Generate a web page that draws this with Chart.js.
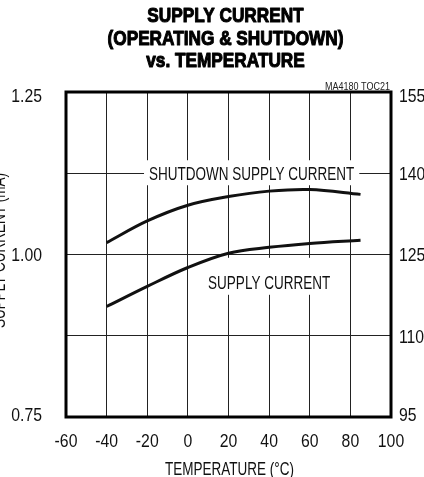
<!DOCTYPE html>
<html>
<head>
<meta charset="utf-8">
<script src="https://cdn.jsdelivr.net/npm/chart.js@4/dist/chart.umd.min.js"></script>
<style>
  html, body { margin: 0; padding: 0; background: #fff; }
  #wrap { width: 424px; height: 477px; position: relative; }
</style>
</head>
<body>
<div id="wrap"><canvas id="c" width="424" height="477"></canvas></div>
<script>
// ---- data ----
const temperatures = [-40, -20, 0, 20, 40, 60, 85];
const supplyCurrent_mA = [0.920, 0.951, 0.980, 1.002, 1.011, 1.017, 1.022];
const shutdownCurrent_uA = [127.2, 131.2, 134.1, 135.7, 136.7, 137.0, 136.1];
const xTicks = [-60, -40, -20, 0, 20, 40, 60, 80, 100];
const leftTicks = [0.75, 1.00, 1.25];
const rightTicks = [95, 110, 125, 140, 155];
const titleLines = ["SUPPLY CURRENT", "(OPERATING & SHUTDOWN)", "vs. TEMPERATURE"];
const xTitle = "TEMPERATURE (°C)";
const yTitle = "SUPPLY CURRENT (mA)";
const labelShutdown = { text: "SHUTDOWN SUPPLY CURRENT", x: 31.4, y: 1.125 };
const labelSupply = { text: "SUPPLY CURRENT", x: 40, y: 0.958 };
const figId = "MA4180 TOC21";

const FONT = '"Liberation Sans", Arial, sans-serif';

// draw horizontally condensed text (emulates a narrow typeface)
function narrowText(ctx, text, x, y, font, align, sx, color, stroke) {
  ctx.save();
  ctx.font = font;
  ctx.fillStyle = color || '#111';
  ctx.textAlign = align;
  ctx.textBaseline = 'alphabetic';
  ctx.translate(x, y);
  ctx.scale(sx, 1);
  ctx.fillText(text, 0, 0);
  if (stroke) {
    ctx.strokeStyle = color || '#111';
    ctx.lineWidth = stroke;
    ctx.lineJoin = 'round';
    ctx.strokeText(text, 0, 0);
  }
  ctx.restore();
}
function narrowWidth(ctx, text, font, sx) {
  ctx.save(); ctx.font = font;
  const w = ctx.measureText(text).width * sx;
  ctx.restore();
  return w;
}

const overlay = {
  id: 'overlay',
  beforeDatasetsDraw(chart) {
    const ctx = chart.ctx;
    const xs = chart.scales.x, yl = chart.scales.yL;
    const f = '18px ' + FONT, sx = 0.75;
    // shutdown label
    let cx = xs.getPixelForValue(labelShutdown.x);
    let cy = yl.getPixelForValue(labelShutdown.y);
    let w = narrowWidth(ctx, labelShutdown.text, f, sx);
    ctx.fillStyle = '#fff';
    ctx.fillRect(cx - w / 2 - 5, cy - 13, w + 10, 25);
    narrowText(ctx, labelShutdown.text, cx, cy + 6.5, f, 'center', sx);
    // supply label
    cx = xs.getPixelForValue(labelSupply.x);
    cy = yl.getPixelForValue(labelSupply.y);
    w = narrowWidth(ctx, labelSupply.text, f, sx);
    ctx.fillStyle = '#fff';
    ctx.fillRect(cx - w / 2 - 12, cy - 24, w + 24, 37);
    narrowText(ctx, labelSupply.text, cx, cy + 7, f, 'center', sx);
  },
  afterDraw(chart) {
    const ctx = chart.ctx;
    const a = chart.chartArea;
    const xs = chart.scales.x, yl = chart.scales.yL, yr = chart.scales.yR;
    ctx.save();
    // frame
    ctx.strokeStyle = '#000';
    ctx.lineWidth = 3;
    ctx.strokeRect(a.left, a.top, a.right - a.left, a.bottom - a.top);
    ctx.restore();

    // tick labels
    const tf = '19px ' + FONT, tsx = 0.83;
    xTicks.forEach(v => narrowText(ctx, String(v), xs.getPixelForValue(v), a.bottom + 30, tf, 'center', tsx));
    const clampY = p => Math.min(Math.max(p, a.top + 3), a.bottom - 3);
    leftTicks.forEach(v => narrowText(ctx, v.toFixed(2), a.left - 24, clampY(yl.getPixelForValue(v)) + 6.8, tf, 'right', tsx));
    rightTicks.forEach(v => narrowText(ctx, String(v), a.right + 8, clampY(yr.getPixelForValue(v)) + 6.8, tf, 'left', tsx));

    // title (heavy condensed look)
    const tcx = (a.left + a.right) / 2 - 3;
    const baselines = [22, 44.5, 67];
    titleLines.forEach((t, i) => narrowText(ctx, t, tcx, baselines[i], 'bold 21px ' + FONT, 'center', 0.82, '#000', 1.1));
    // figure id
    narrowText(ctx, figId, a.right - 1, a.top - 2, '11px ' + FONT, 'right', 0.82, '#222');
    // x title
    narrowText(ctx, xTitle, (a.left + a.right) / 2 + 1, 475, '18px ' + FONT, 'center', 0.75);
    // y title (rotated, partially clipped at the left edge)
    ctx.save();
    ctx.translate(5, (a.top + a.bottom) / 2 - 4);
    ctx.rotate(-Math.PI / 2);
    narrowText(ctx, yTitle, 0, 0, '18px ' + FONT, 'center', 0.75);
    ctx.restore();
  }
};

new Chart(document.getElementById('c'), {
  type: 'line',
  data: {
    datasets: [
      {
        label: 'Supply current (mA)',
        data: temperatures.map((t, i) => ({ x: t, y: supplyCurrent_mA[i] })),
        yAxisID: 'yL',
        borderColor: '#111',
        borderWidth: 3,
        pointRadius: 0,
        tension: 0.35,
        fill: false
      },
      {
        label: 'Shutdown supply current (uA)',
        data: temperatures.map((t, i) => ({ x: t, y: shutdownCurrent_uA[i] })),
        yAxisID: 'yR',
        borderColor: '#111',
        borderWidth: 3,
        pointRadius: 0,
        tension: 0.35,
        fill: false
      }
    ]
  },
  options: {
    responsive: false,
    animation: false,
    devicePixelRatio: 1,
    layout: { padding: { top: 92, left: 0, right: 0, bottom: 0 } },
    plugins: { legend: { display: false }, title: { display: false }, tooltip: { enabled: false } },
    scales: {
      x: {
        type: 'linear',
        min: xTicks[0], max: xTicks[xTicks.length - 1],
        afterBuildTicks: s => { s.ticks = xTicks.map(v => ({ value: v })); },
        afterFit: s => { s.height = 60; },
        grid: { color: '#222', lineWidth: 1, drawTicks: false },
        border: { display: false },
        ticks: { display: false }
      },
      yL: {
        type: 'linear',
        position: 'left',
        min: 0.75, max: 1.25,
        ticks: { display: false, stepSize: 0.125 },
        afterFit: s => { s.width = 66; },
        grid: { color: '#222', lineWidth: 1, drawTicks: false },
        border: { display: false }
      },
      yR: {
        type: 'linear',
        position: 'right',
        min: rightTicks[0], max: rightTicks[rightTicks.length - 1],
        ticks: { display: false, stepSize: 15 },
        afterFit: s => { s.width = 33; },
        grid: { drawOnChartArea: false, drawTicks: false },
        border: { display: false }
      }
    }
  },
  plugins: [overlay]
});
</script>
</body>
</html>
